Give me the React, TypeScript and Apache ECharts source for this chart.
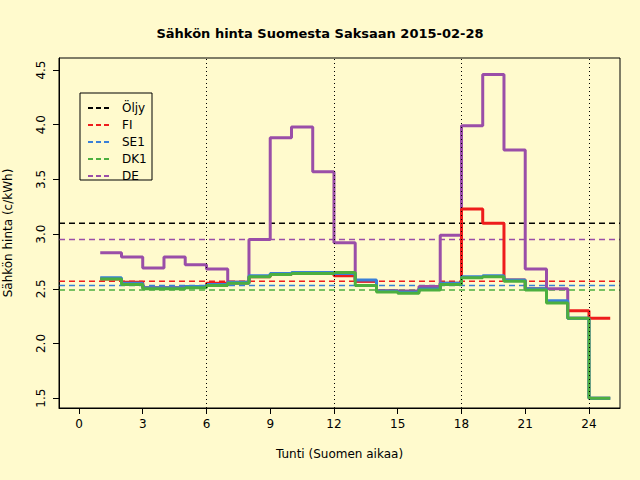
import { useEffect, useRef } from 'react';
import * as echarts from 'echarts';

const hours = Array.from({ length: 25 }, (_, i) => i + 1);
const fi = [2.59, 2.56, 2.51, 2.51, 2.52, 2.55, 2.56, 2.61, 2.63, 2.64, 2.64, 2.62, 2.57, 2.48, 2.47, 2.50, 2.55, 3.23, 3.10, 2.58, 2.50, 2.38, 2.30, 2.23];
const se1 = [2.60, 2.55, 2.51, 2.51, 2.52, 2.54, 2.56, 2.62, 2.64, 2.65, 2.65, 2.64, 2.58, 2.48, 2.47, 2.50, 2.55, 2.61, 2.62, 2.58, 2.50, 2.39, 2.23, 1.50];
const dk1 = [2.59, 2.54, 2.50, 2.50, 2.51, 2.53, 2.55, 2.61, 2.63, 2.64, 2.64, 2.65, 2.53, 2.47, 2.46, 2.49, 2.54, 2.60, 2.61, 2.57, 2.49, 2.37, 2.23, 1.50];
const de = [2.83, 2.79, 2.69, 2.79, 2.72, 2.68, 2.55, 2.95, 3.88, 3.98, 3.57, 2.92, 2.57, 2.48, 2.48, 2.52, 2.99, 3.99, 4.46, 3.77, 2.68, 2.50, 2.23, 1.50];
const refNames = ['Öljy', 'FI', 'SE1', 'DK1', 'DE'];
const refValues = [3.10, 2.57, 2.53, 2.49, 2.95];
const colors = ['#000000', '#ee1c1c', '#3a80d8', '#4caf3f', '#9a4ea8'];
const xTicks = [0, 3, 6, 9, 12, 15, 18, 21, 24];
const yTicks = [1.5, 2.0, 2.5, 3.0, 3.5, 4.0, 4.5];
const vLines = [6, 12, 18, 24];

const X_MIN = -0.94, X_MAX = 25.46;
const stepData = (v: number[]) => hours.map((h, i) => [h, v[Math.min(i, v.length - 1)]]);

export default function App() {
  const ref = useRef<HTMLDivElement>(null);
  useEffect(() => {
    document.body.style.margin = '0';
    const chart = echarts.init(ref.current!, undefined, { renderer: 'svg' });
    const font = 'DejaVu Sans';
    const legendItems = refNames.map((n, i) => [
      { type: 'line', shape: { x1: 88, y1: 108 + i * 17, x2: 110, y2: 108 + i * 17 }, style: { stroke: colors[i], lineWidth: 2, lineDash: [5, 3] } },
      { type: 'text', x: 122, y: 108 + i * 17, style: { text: n, fontFamily: font, fontSize: 12, fill: '#000', verticalAlign: 'middle' } },
    ]).flat();
    chart.setOption({
      animation: false,
      backgroundColor: '#fffacd',
      textStyle: { fontFamily: font },
      title: { text: 'Sähkön hinta Suomesta Saksaan 2015-02-28', left: 'center', top: 22, textStyle: { fontSize: 13, fontWeight: 'bold', fontFamily: font, color: '#000' } },
      grid: { left: 59, right: 20, top: 58, bottom: 72, outerBoundsMode: 'none', containLabel: false },
      xAxis: {
        type: 'value', min: X_MIN, max: X_MAX,
        name: 'Tunti (Suomen aikaa)', nameLocation: 'middle', nameGap: 40,
        nameTextStyle: { fontSize: 12, color: '#000' },
        axisLine: { onZero: false, lineStyle: { color: '#000' } },
        axisTick: { customValues: xTicks, length: 6, lineStyle: { color: '#000' } },
        axisLabel: { customValues: xTicks, color: '#000', fontSize: 12, margin: 10 },
        splitLine: { show: false },
      },
      yAxis: {
        type: 'value', min: 1.41, max: 4.61,
        name: 'Sähkön hinta (c/kWh)', nameLocation: 'middle', nameGap: 45,
        nameTextStyle: { fontSize: 12, color: '#000' },
        axisLine: { show: true, onZero: false, lineStyle: { color: '#000' } },
        axisTick: { show: true, customValues: yTicks, length: 6, lineStyle: { color: '#000' } },
        axisLabel: { customValues: yTicks, color: '#000', fontSize: 12, rotate: 90, margin: 12, formatter: (v: number) => v.toFixed(1) },
        splitLine: { show: false },
      },
      graphic: [
        { type: 'rect', shape: { x: 59, y: 58, width: 561, height: 350 }, style: { fill: 'none', stroke: '#000', lineWidth: 1 }, z: 100 },
        { type: 'rect', shape: { x: 80, y: 93, width: 72, height: 87 }, style: { fill: '#fffacd', stroke: '#000', lineWidth: 1 }, z: 100 },
        ...legendItems.map((g) => ({ ...g, z: 101 })),
      ],
      series: [
        ...refNames.map((n, i) => ({
          name: n + ' ref', type: 'line', symbol: 'none', silent: true,
          data: [[X_MIN, refValues[i]], [X_MAX, refValues[i]]],
          lineStyle: { color: colors[i], width: 1.5, type: [6, 4] },
          ...(i === 0 ? {
            markLine: {
              symbol: 'none', silent: true, label: { show: false },
              lineStyle: { color: '#000', width: 1, type: [1, 3] },
              data: vLines.map((x) => ({ xAxis: x })),
            },
          } : {}),
        })),
        ...[['DE', de, 4], ['FI', fi, 1], ['SE1', se1, 2], ['DK1', dk1, 3]].map(([n, v, c]) => ({
          name: n as string, type: 'line', step: 'end', symbol: 'none',
          data: stepData(v as number[]),
          lineStyle: { color: colors[c as number], width: 3 },
        })),
      ],
    });
    return () => chart.dispose();
  }, []);
  return <div ref={ref} style={{ width: 640, height: 480 }} />;
}
